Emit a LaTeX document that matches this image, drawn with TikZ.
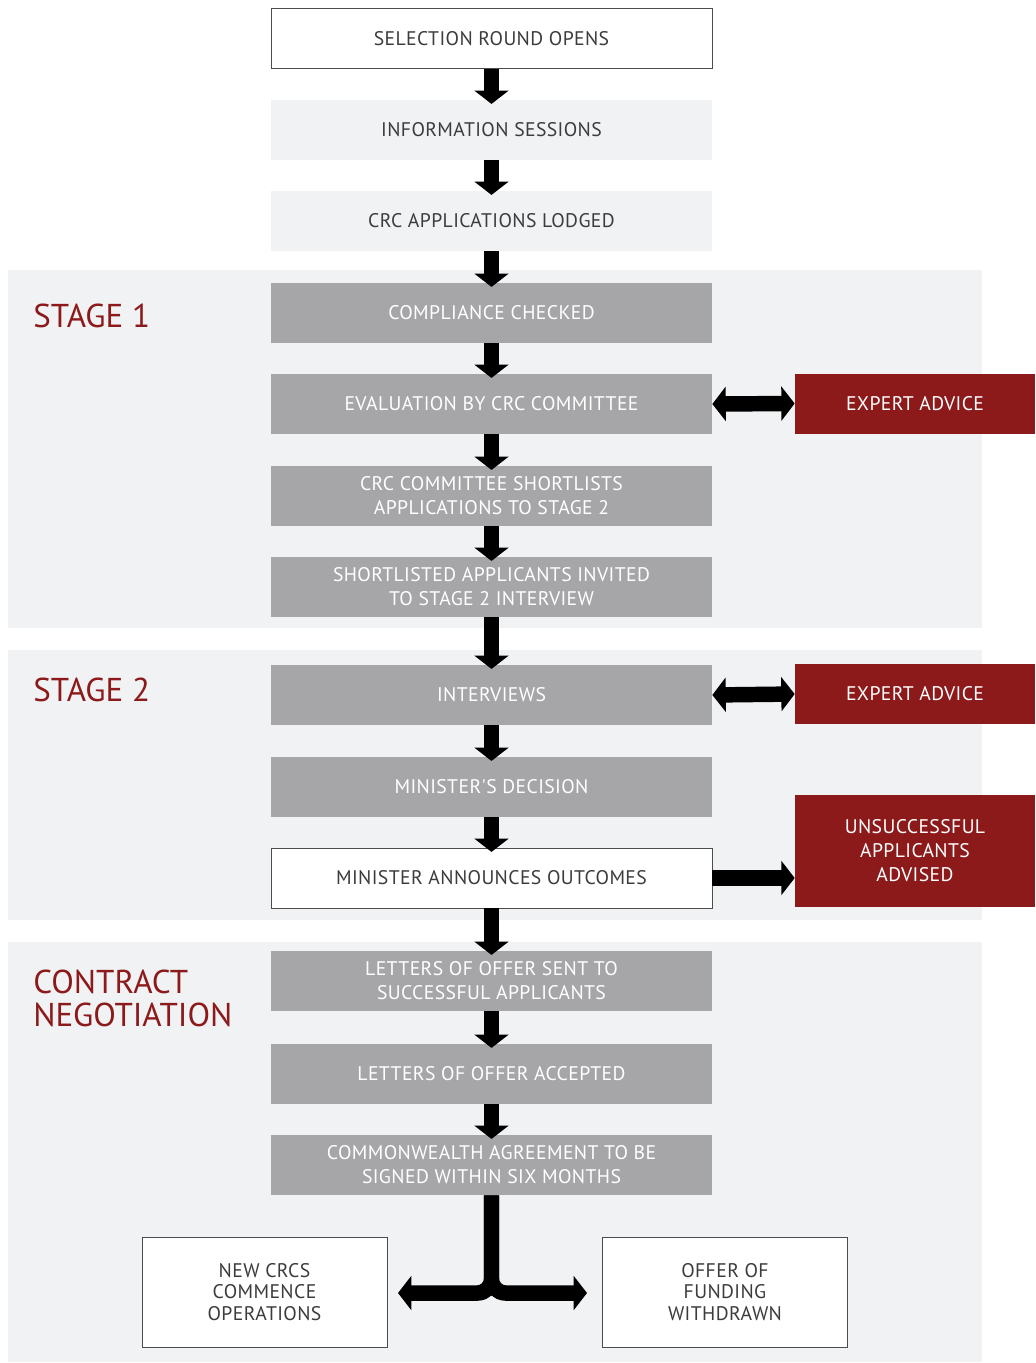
\documentclass[tikz,border=0pt]{standalone}
\usepackage{fontspec}
\setmainfont{PT Sans}
\newfontfamily\boxfont{PT Sans}[LetterSpace=2]
\usetikzlibrary{arrows.meta}
\definecolor{band}{HTML}{F1F2F4}
\definecolor{boxgray}{HTML}{A6A6A8}
\definecolor{crcred}{HTML}{8C1A1B}
\definecolor{txt}{HTML}{3C3C3C}
\tikzset{
  stepbase/.style={minimum width=11.025cm,minimum height=1.5cm,align=center,
    font=\boxfont\fontsize{14}{17}\selectfont},
  openbox/.style={stepbase,draw=black!70,fill=white,text=txt},
  lightbox/.style={stepbase,fill=band,text=txt},
  greybox/.style={stepbase,fill=boxgray,text=white},
  redbox/.style={stepbase,minimum width=6cm,fill=crcred,text=white},
  endbox/.style={openbox,minimum width=6.125cm,minimum height=2.75cm,
    font=\boxfont\fontsize{14}{15.5}\selectfont},
  stagelabel/.style={text=crcred,align=left,inner sep=0pt,
    font=\fontsize{23.5}{23.5}\selectfont},
  flow/.style={line width=11pt,-{Triangle[width=24pt,length=9.5pt]}},
  flowboth/.style={line width=11pt,{Triangle[width=24pt,length=9.5pt]}-{Triangle[width=24pt,length=9.5pt]}}
}
\begin{document}
\begin{tikzpicture}[x=0.025cm,y=-0.025cm]
  \fill[white] (0,0) rectangle (1035,1363);
  \fill[band] (8,270) rectangle (982,628);
  \fill[band] (8,650) rectangle (982,920);
  \fill[band] (8,942) rectangle (982,1362);
  \node[stagelabel,anchor=west] (stage1) at (33,316) {STAGE 1};
  \node[stagelabel,anchor=west] (stage2) at (33,690) {STAGE 2};
  \node[stagelabel,anchor=west] (contract) at (33,998) {CONTRACT\\NEGOTIATION};

  \node[openbox] (opens) at (491.5,38.5) {SELECTION ROUND OPENS};
  \node[lightbox] (info) at (491.5,130) {INFORMATION SESSIONS};
  \node[lightbox] (lodged) at (491.5,221) {CRC APPLICATIONS LODGED};
  \node[greybox] (comply) at (491.5,313) {COMPLIANCE CHECKED};
  \node[greybox] (eval) at (491.5,404) {EVALUATION BY CRC COMMITTEE};
  \node[greybox] (shortlist) at (491.5,496) {CRC COMMITTEE SHORTLISTS\\APPLICATIONS TO STAGE 2};
  \node[greybox] (invited) at (491.5,587) {SHORTLISTED APPLICANTS INVITED\\TO STAGE 2 INTERVIEW};
  \node[greybox] (interviews) at (491.5,695) {INTERVIEWS};
  \node[greybox] (decision) at (491.5,787) {MINISTER'S DECISION};
  \node[openbox] (announce) at (491.5,878) {MINISTER ANNOUNCES OUTCOMES};
  \node[greybox] (offersent) at (491.5,981) {LETTERS OF OFFER SENT TO\\SUCCESSFUL APPLICANTS};
  \node[greybox] (accepted) at (491.5,1074) {LETTERS OF OFFER ACCEPTED};
  \node[greybox] (agreement) at (491.5,1165) {COMMONWEALTH AGREEMENT TO BE\\SIGNED WITHIN SIX MONTHS};

  \node[redbox] (expert1) at (915,403.5) {EXPERT ADVICE};
  \node[redbox] (expert2) at (915,694) {EXPERT ADVICE};
  \node[redbox,minimum height=2.8cm] (unsucc) at (915,851) {UNSUCCESSFUL\\APPLICANTS\\ADVISED};
  \node[endbox] (commence) at (264.5,1292) {NEW CRCS\\COMMENCE\\OPERATIONS};
  \node[endbox] (withdrawn) at (725,1292) {OFFER OF\\FUNDING\\WITHDRAWN};

  \foreach \a/\b in {opens/info,info/lodged,lodged/comply,comply/eval,eval/shortlist,
    shortlist/invited,invited/interviews,interviews/decision,decision/announce,
    announce/offersent,offersent/accepted,accepted/agreement}
    \draw[flow] (\a.south) -- ([yshift=-3pt]\b.north);
  \draw[flowboth] (eval.east) -- (expert1.west);
  \draw[flowboth] (interviews.east) -- (expert2.west);
  \draw[flow] (announce.east) -- (announce.east -| unsucc.west);
  \coordinate (forkL) at (398,1293);
  \coordinate (forkR) at (587,1293);
  \draw[flow,rounded corners=10pt] (agreement.south) |- (forkL);
  \draw[flow,rounded corners=10pt] (agreement.south) |- (forkR);
\end{tikzpicture}
\end{document}
